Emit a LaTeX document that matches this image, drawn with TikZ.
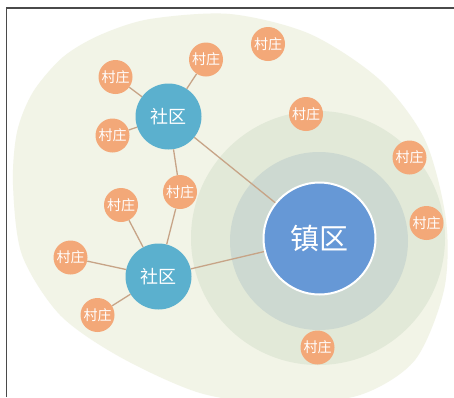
\documentclass[tikz,border=0pt]{standalone}
\usepackage{fontspec}
\newfontfamily\cjk{Noto Sans CJK SC}
\definecolor{blobc}{HTML}{F2F4E7}
\definecolor{ringc}{HTML}{E2E9D8}
\definecolor{innerc}{HTML}{CDD9D1}
\definecolor{townc}{HTML}{6698D6}
\definecolor{commc}{HTML}{5BB0CE}
\definecolor{villc}{HTML}{F3A878}
\definecolor{linkc}{HTML}{C7A487}
\definecolor{framec}{HTML}{4A4A4A}
\tikzset{
  village/.style={circle, fill=villc, minimum size=34pt, inner sep=0pt, text=white, font=\cjk\fontsize{14pt}{14pt}\selectfont},
  community/.style={circle, fill=commc, minimum size=66pt, inner sep=0pt, text=white, font=\cjk\fontsize{18pt}{18pt}\selectfont},
  town/.style={circle, fill=townc, draw=white, line width=2pt, minimum size=112pt, inner sep=0pt, text=white, font=\cjk\fontsize{29pt}{29pt}\selectfont},
  link/.style={draw=linkc, line width=1.3pt},
}
\begin{document}
\begin{tikzpicture}[x=1pt, y=-1pt]
\useasboundingbox (0,0) rectangle (454,397);
\fill[white] (0,0) rectangle (454,397);
% background blob
\fill[blobc] plot[smooth cycle] coordinates {
  (13,185) (17,132) (33,92) (63,57) (100,35) (150,19) (230,14) (310,34) (380,80)
  (425,140) (446,220) (444,290) (415,360) (360,395) (280,404) (200,393)
  (120,357) (60,315) (22,255)};
% rings
\fill[ringc] (318,238) circle[radius=127];
\fill[innerc] (319,241) circle[radius=89];
% frame
\draw[framec, line width=1.5pt] (6.5,397) -- (6.5,8) -- (454,8);
% nodes
\node[town] (T) at (319.5,238.5) {镇区};
\node[community] (C1) at (168.5,116.5) {社区};
\node[community] (C2) at (158.5,276.5) {社区};
\node[village] (v1) at (115.5,77) {村庄};
\node[village] (v2) at (206,59.5) {村庄};
\node[village] (v3) at (268,44) {村庄};
\node[village] (v4) at (112.5,135.5) {村庄};
\node[village] (v5) at (306,114) {村庄};
\node[village] (v6) at (409.5,157.5) {村庄};
\node[village] (v7) at (426.5,223) {村庄};
\node[village] (v8) at (180,192) {村庄};
\node[village] (v9) at (121,205) {村庄};
\node[village] (v10) at (70.5,257.5) {村庄};
\node[village] (v11) at (97.5,315) {村庄};
\node[village] (v12) at (317.5,347.5) {村庄};
% links
\draw[link] (C1) -- (v1);
\draw[link] (C1) -- (v2);
\draw[link] (C1) -- (v4);
\draw[link] (C1) -- (v8);
\draw[link] (C1) -- (T);
\draw[link] (C2) -- (v8);
\draw[link] (C2) -- (v9);
\draw[link] (C2) -- (v10);
\draw[link] (C2) -- (v11);
\draw[link] (C2) -- (T);
\end{tikzpicture}
\end{document}
